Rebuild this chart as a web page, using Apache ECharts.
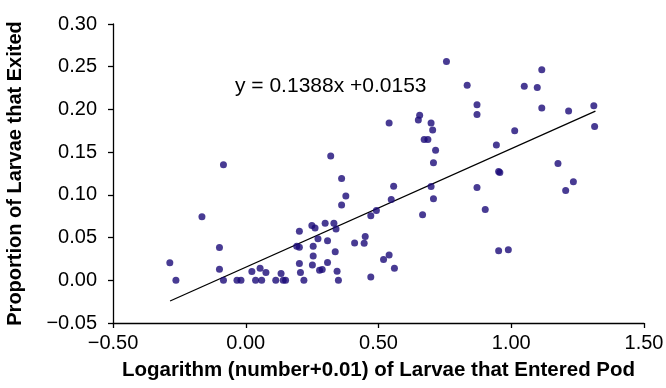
<!DOCTYPE html>
<html>
<head>
<meta charset="utf-8">
<script src="https://cdn.jsdelivr.net/npm/echarts@6/dist/echarts.min.js"></script>
<style>html,body{margin:0;padding:0;background:#fff;}#c{width:666px;height:388px;}</style>
</head>
<body>
<div id="c"></div>
<script>
// Data
const xValues = [-0.286,-0.263,-0.165,-0.099,-0.099,-0.084,-0.084,-0.033,-0.018,0.023,0.037,0.054,0.060,0.076,0.113,0.133,0.141,0.150,
0.202,0.249,0.261,0.299,0.332,0.340,0.272,0.308,0.192,0.202,0.254,0.337,0.410,0.446,0.450,0.254,0.202,0.251,0.308,0.278,0.288,0.206,0.344,0.219,0.349,0.471,0.519,0.540,0.560,
0.320,0.361,0.377,0.361,0.471,0.492,0.548,0.557,0.540,0.666,0.698,0.707,0.707,0.715,0.672,0.686,0.704,0.698,0.655,0.650,
0.756,0.834,0.871,0.871,0.871,0.902,0.944,0.9525,0.957,0.9525,0.989,1.013,1.049,1.098,1.115,1.115,1.176,1.205,1.234,1.216,1.311,1.314];
const yValues = [0.0206,0.000,0.0743,0.0383,0.0130,0.1353,0.000,0.000,0.000,0.0104,0.000,0.0142,0.000,0.0091,0.000,0.0079,0.000,0.000,
0.0575,0.0640,0.0613,0.0669,0.0669,0.0601,0.0486,0.0462,0.0397,0.0386,0.0397,0.0334,0.0436,0.0434,0.0513,0.0283,0.0197,0.0180,0.0209,0.0118,0.0126,0.0091,0.0106,0.000,0.000,0.0038,0.0244,0.0297,0.0142,
0.1454,0.1191,0.0987,0.0882,0.0755,0.0817,0.0946,0.1100,0.1840,0.0767,0.1097,0.0953,0.1377,0.1521,0.1647,0.1647,0.1760,0.1840,0.1932,0.1877,
0.2562,0.2284,0.2055,0.1940,0.1087,0.0829,0.1584,0.1274,0.1262,0.0346,0.0357,0.1749,0.2272,0.2256,0.2465,0.2017,0.1368,0.1050,0.1152,0.1981,0.2044,0.1800];
const trendSlope = 0.1388;
const trendIntercept = 0.0153;
const trendXRange = [-0.285, 1.317];
const equationText = 'y = 0.1388x +0.0153';
const xTicks = [-0.5, 0, 0.5, 1.0, 1.5];
const yTicks = [-0.05, 0, 0.05, 0.10, 0.15, 0.20, 0.25, 0.30];

const points = xValues.map((x, i) => [x, yValues[i]]);
const trend = trendXRange.map(x => [x, trendSlope * x + trendIntercept]);
const fmt = v => (v < 0 ? '\u2212' : '') + Math.abs(v).toFixed(2);
const FONT = '"Liberation Sans", Arial, sans-serif';

const chart = echarts.init(document.getElementById('c'), null, {renderer: 'canvas'});
chart.setOption({
  animation: false,
  backgroundColor: '#fff',
  grid: {left: 113, right: 22, top: 24, bottom: 65, containLabel: false, outerBoundsMode: 'none'},
  xAxis: {
    type: 'value', min: xTicks[0], max: xTicks[xTicks.length - 1], interval: 0.5,
    name: 'Logarithm (number+0.01) of Larvae that Entered Pod',
    nameLocation: 'middle', nameGap: 37,
    nameTextStyle: {fontFamily: FONT, fontWeight: 'bold', fontSize: 20.5, color: '#000'},
    axisLine: {show: true, onZero: false, lineStyle: {color: '#000', width: 1.3}},
    axisTick: {show: true, inside: false, length: 5, lineStyle: {color: '#000', width: 1.3}},
    axisLabel: {formatter: fmt, fontFamily: FONT, fontSize: 20, color: '#000', margin: 10},
    splitLine: {show: false}
  },
  yAxis: {
    type: 'value', min: yTicks[0], max: yTicks[yTicks.length - 1], interval: 0.05,
    name: 'Proportion of Larvae that Exited',
    nameLocation: 'middle', nameGap: 88, nameRotate: 90,
    nameTextStyle: {fontFamily: FONT, fontWeight: 'bold', fontSize: 20, color: '#000'},
    axisLine: {show: true, onZero: false, lineStyle: {color: '#000', width: 1.3}},
    axisTick: {show: true, inside: false, length: 5, lineStyle: {color: '#000', width: 1.3}},
    axisLabel: {formatter: fmt, fontFamily: FONT, fontSize: 20, color: '#000', margin: 16},
    splitLine: {show: false}
  },
  graphic: [{
    type: 'text', left: 235, top: 76,
    style: {text: equationText, fontFamily: FONT, fontSize: 21, fill: '#000'}
  }],
  series: [
    {
      type: 'scatter', data: points, symbol: 'circle', symbolSize: 7,
      itemStyle: {color: '#1a0a78'}, z: 3
    },
    {
      type: 'line', data: trend, symbol: 'none', showSymbol: false,
      lineStyle: {color: '#000', width: 1.3}, z: 2
    }
  ]
});
</script>
</body>
</html>
